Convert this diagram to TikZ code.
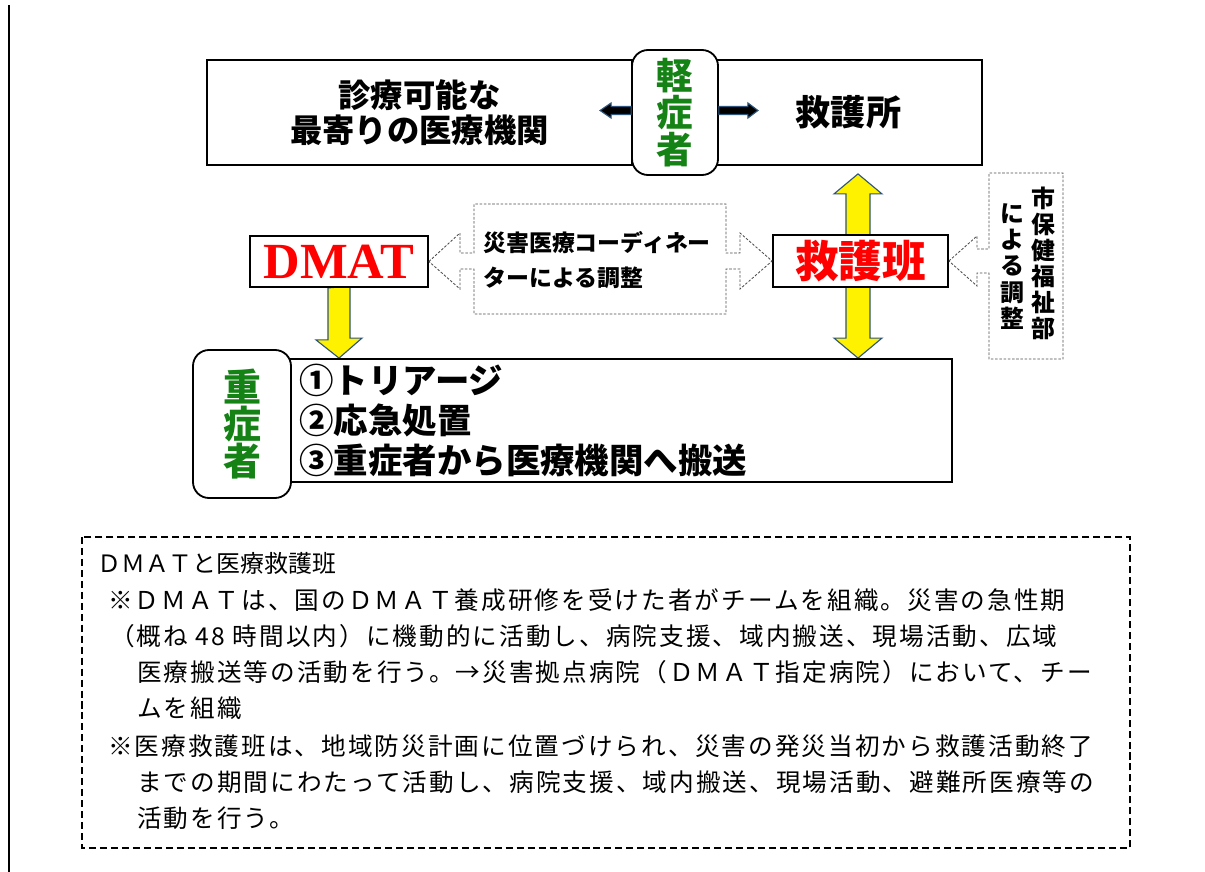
\documentclass[tikz,border=0pt]{standalone}
\usepackage{fontspec}
\setmainfont{Liberation Serif}
\newfontfamily\jp{Noto Sans CJK JP}
\newfontfamily\jpnote{Noto Sans CJK JP}[LetterSpace=8.4]
\usetikzlibrary{positioning,calc,backgrounds}

\definecolor{mildgreen}{RGB}{20,130,20}
\definecolor{edgeblue}{RGB}{45,85,125}

\tikzset{
  box/.style={draw, line width=1.3pt, fill=white, inner sep=0pt},
  patient/.style={box, rounded corners=4mm, text=mildgreen, align=center},
  team/.style={box, text=red},
  callout/.style={draw=gray!60!black, line width=0.6pt, dash pattern=on 1.8pt off 1.2pt},
  yarrow/.style={fill=yellow, draw=edgeblue, line width=0.8pt},
  karrow/.style={fill=black, draw=edgeblue, line width=0.8pt},
  vcol/.style={align=center, inner sep=0pt, font=\jp\bfseries\fontsize{17}{18.6}\selectfont},
  note/.style={anchor=west, inner sep=0pt, font=\jpnote\fontsize{17.5}{20}\selectfont},
}

\begin{document}
\begin{tikzpicture}[x=0.25mm, y=-0.25mm]
\useasboundingbox (0,0) rectangle (1205,872);
\draw[line width=1.4pt] (9,5) -- (9,872);

% top row
\node[box, minimum width=106.25mm, minimum height=26.25mm, align=center,
      font=\jp\bfseries\fontsize{23}{25}\selectfont] (hosp) at (419.5,112.5) {診療可能な\\最寄りの医療機関};
\node[box, minimum width=66.75mm, minimum height=26.25mm,
      font=\jp\bfseries\fontsize{25}{25}\selectfont] (aid) at (848.5,112.5) {救護所};
\node[patient, minimum width=21.5mm, minimum height=31.25mm,
      font=\jp\bfseries\fontsize{26}{26.5}\selectfont] (mild) at (675,112.5) {軽\\症\\者};

\draw[karrow] (mild.west) ++(0,-6) -- ++(-20,0) -- ++(0,-3.5) -- ++(-11,7.5) -- ++(11,7.5) -- ++(0,-3.5) -- ++(20,0) -- cycle;
\draw[karrow] (mild.east) ++(0,-6) -- ++(29,0) -- ++(0,-3.5) -- ++(10,7.5) -- ++(-10,7.5) -- ++(0,-3.5) -- ++(-29,0) -- cycle;

% middle row
\node[team, minimum width=44.5mm, minimum height=12.75mm,
      font=\bfseries\fontsize{36}{36}\selectfont] (dmat) at (339,261.5) {DMAT};
\node[team, minimum width=43.75mm, minimum height=13mm,
      font=\jp\bfseries\fontsize{31}{31}\selectfont] (rescue) at (860.5,261) {救護班};

\node[anchor=west, align=left, inner sep=0pt,
      font=\jp\bfseries\fontsize{16.3}{25}\selectfont] (coordtxt) at (483,260) {災害医療コーディネー\\ターによる調整};
\draw[callout] (dmat.east) -- (460,233) -- (460,253) -- (474,253) -- (474,204) -- (726,204)
  -- (726,253) -- (740,253) -- (740,233) -- (rescue.west) -- (740,289) -- (740,269)
  -- (726,269) -- (726,314) -- (474,314) -- (474,269) -- (460,269) -- (460,289) -- cycle;

\node[vcol] (city) at (1043,263.5) {市\\保\\健\\福\\祉\\部};
\node[vcol] (adjust) at (1012,266.5) {に\\よ\\る\\調\\整};
\draw[callout] (rescue.east) -- (977,236) -- (977,249) -- (989,249) -- (989,173) -- (1063,173)
  -- (1063,359) -- (989,359) -- (989,273) -- (977,273) -- (977,286) -- cycle;

% bottom row
\node[box, minimum width=165.5mm, minimum height=30.75mm] (main) at (621,420.5) {};
\node[right=2.5mm of main.west, align=left, inner sep=0pt,
      font=\jp\bfseries\fontsize{24.5}{28.5}\selectfont] (steps) {①トリアージ\\②応急処置\\③重症者から医療機関へ搬送};
\node[patient, minimum width=24.5mm, minimum height=37mm,
      font=\jp\bfseries\fontsize{27}{26.5}\selectfont] (severe) at (242,424) {重\\症\\者};

\begin{scope}[on background layer]
  \draw[yarrow] (dmat.south) ++(-11,0) -- ++(0,52) -- ++(-12,0) -- (dmat.south |- main.north)
    -- ++(23,-20) -- ++(-12,0) -- ++(0,-52) -- cycle;
  \coordinate (uptip) at ($(aid.south)+(9.5,8)$);
  \draw[yarrow] (uptip) -- ++(24,20) -- ++(-12,0) -- ($(uptip |- main.north)+(12,-20)$) -- ++(12,0)
    -- (uptip |- main.north) -- ++(-24,-20) -- ++(12,0) -- ($(uptip)+(-12,20)$) -- ++(-12,0) -- cycle;
\end{scope}

% note
\draw[line width=1pt, dash pattern=on 5pt off 2.8pt] (82,537) rectangle (1130,848);
\node[note, font=\jp\fontsize{17}{20}\selectfont] (title) at (97,563) {ＤＭＡＴと医療救護班};
\node[note] (n1) at (108,600) {※ＤＭＡＴは、国のＤＭＡＴ養成研修を受けた者がチームを組織。災害の急性期};
\node[note] (n2) at (110,636) {（概ね 48 時間以内）に機動的に活動し、病院支援、域内搬送、現場活動、広域};
\node[note] (n3) at (137,672) {医療搬送等の活動を行う。→災害拠点病院（ＤＭＡＴ指定病院）において、チー};
\node[note] (n4) at (137,708) {ムを組織};
\node[note] (n5) at (108,746) {※医療救護班は、地域防災計画に位置づけられ、災害の発災当初から救護活動終了};
\node[note] (n6) at (137,782) {までの期間にわたって活動し、病院支援、域内搬送、現場活動、避難所医療等の};
\node[note] (n7) at (137,818) {活動を行う。};
\end{tikzpicture}
\end{document}
